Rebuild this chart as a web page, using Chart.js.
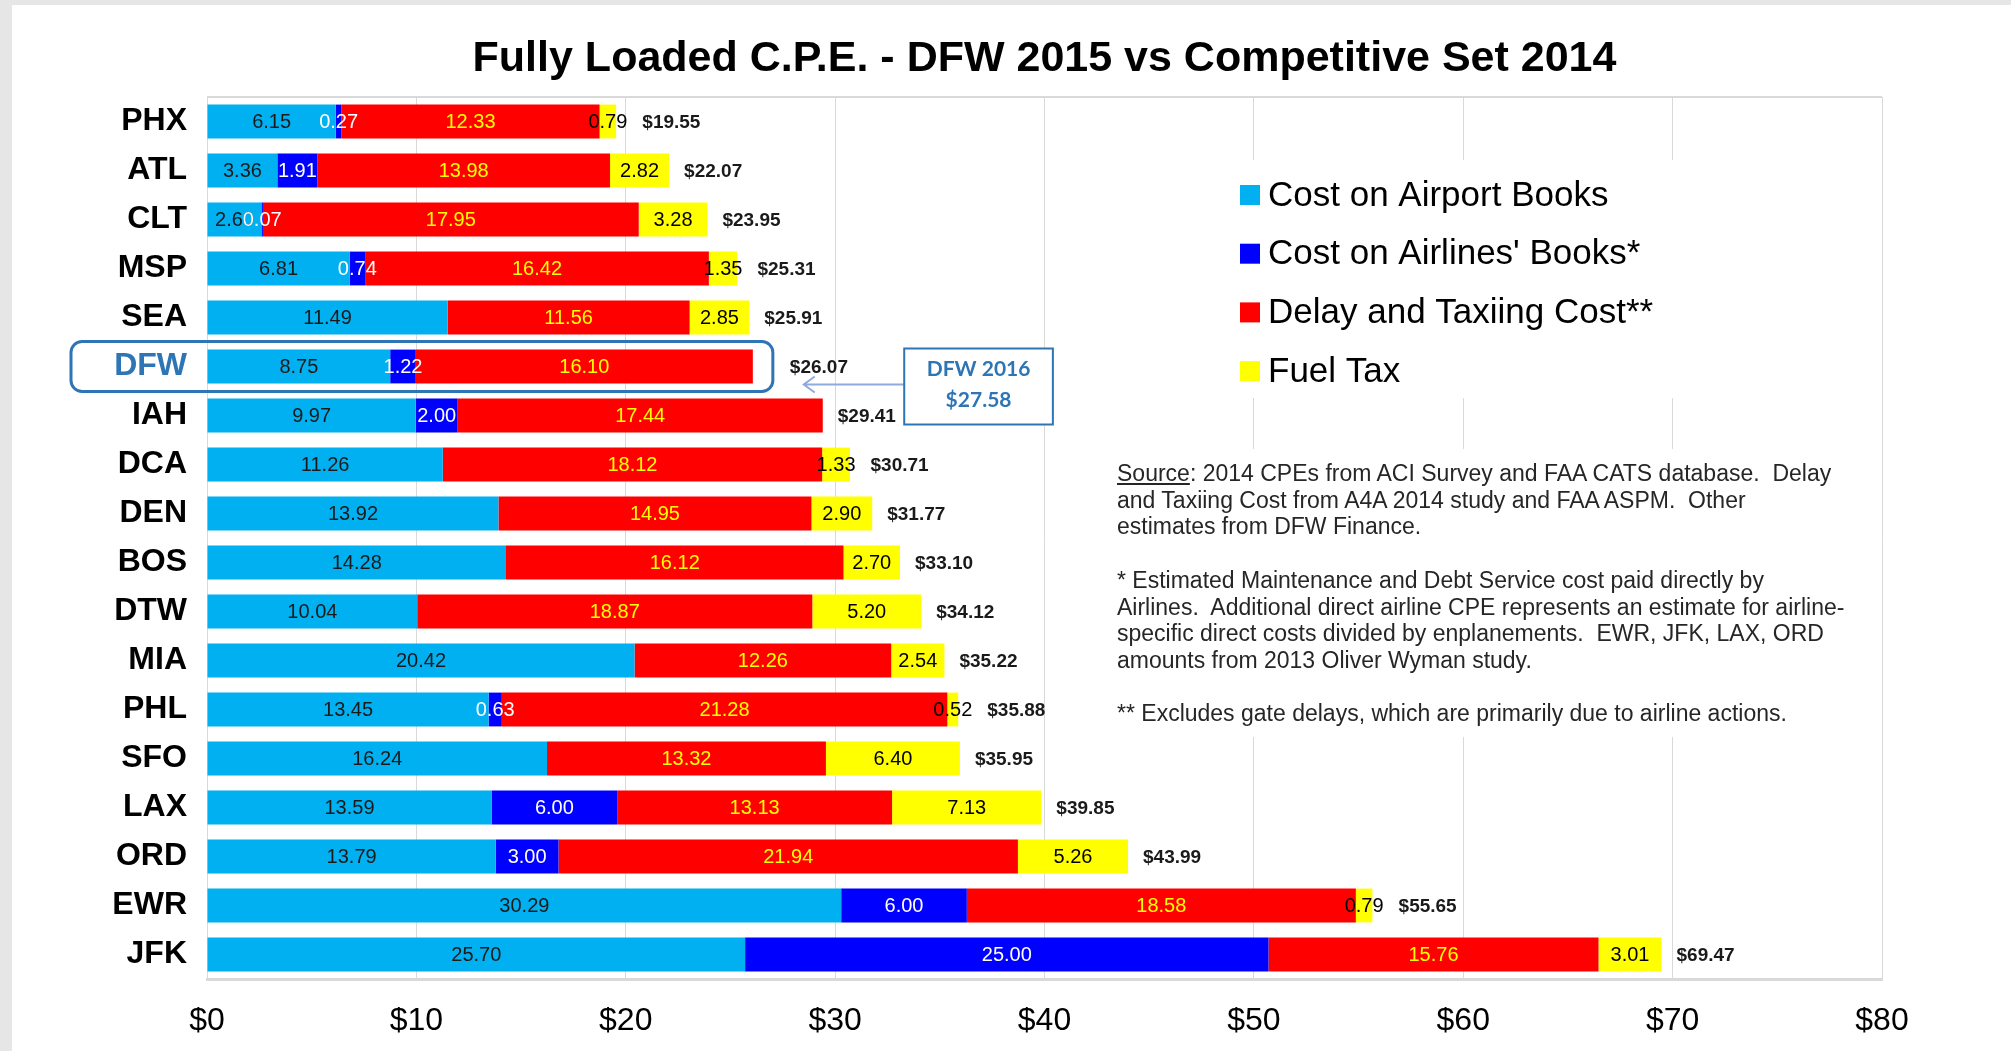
<!DOCTYPE html>
<html>
<head>
<meta charset="utf-8">
<script src="https://cdn.jsdelivr.net/npm/chart.js@4.4.1/dist/chart.umd.min.js"></script>
<style>
  body { margin: 0; background: #e6e6e6; width: 2011px; height: 1051px; overflow: hidden; font-family: "Liberation Sans", Arial, sans-serif; }
  #wrap { position: absolute; left: 12px; top: 5px; width: 1999px; height: 1046px; background: #fff; }
  #notes { position: absolute; left: 1105px; top: 455px; font-size: 23px; line-height: 26.7px; color: #262626; white-space: pre; }
  #notes u { text-decoration: underline; }
</style>
</head>
<body>
<div id="wrap">
  <canvas id="cpeChart" width="1999" height="1046"></canvas>
  <div id="notes"><u>Source</u>: 2014 CPEs from ACI Survey and FAA CATS database.  Delay
and Taxiing Cost from A4A 2014 study and FAA ASPM.  Other
estimates from DFW Finance.

* Estimated Maintenance and Debt Service cost paid directly by
Airlines.  Additional direct airline CPE represents an estimate for airline-
specific direct costs divided by enplanements.  EWR, JFK, LAX, ORD
amounts from 2013 Oliver Wyman study.

** Excludes gate delays, which are primarily due to airline actions.</div>
</div>
<script>
// values
const airports = ['PHX', 'ATL', 'CLT', 'MSP', 'SEA', 'DFW', 'IAH', 'DCA', 'DEN', 'BOS', 'DTW', 'MIA', 'PHL', 'SFO', 'LAX', 'ORD', 'EWR', 'JFK'];
const airportBooks = [6.15, 3.36, 2.60, 6.81, 11.49, 8.75, 9.97, 11.26, 13.92, 14.28, 10.04, 20.42, 13.45, 16.24, 13.59, 13.79, 30.29, 25.70];
const airlineBooks = [0.27, 1.91, 0.07, 0.74, null, 1.22, 2.00, null, null, null, null, null, 0.63, null, 6.00, 3.00, 6.00, 25.00];
const delayTaxi = [12.33, 13.98, 17.95, 16.42, 11.56, 16.10, 17.44, 18.12, 14.95, 16.12, 18.87, 12.26, 21.28, 13.32, 13.13, 21.94, 18.58, 15.76];
const fuelTax = [0.79, 2.82, 3.28, 1.35, 2.85, null, null, 1.33, 2.90, 2.70, 5.20, 2.54, 0.52, 6.40, 7.13, 5.26, 0.79, 3.01];
const totals = [19.55, 22.07, 23.95, 25.31, 25.91, 26.07, 29.41, 30.71, 31.77, 33.10, 34.12, 35.22, 35.88, 35.95, 39.85, 43.99, 55.65, 69.47];
const xTicks = [0, 10, 20, 30, 40, 50, 60, 70, 80];
const highlight = 'DFW';
const dfw2016 = 27.58;

const FONT = '"Liberation Sans", Arial, sans-serif';
const BLUE_NOTE = '#2E75B6';
const hiIdx = airports.indexOf(highlight);

const seriesDefs = [
    { label: 'Cost on Airport Books', data: airportBooks, color: '#00B0F0', text: '#1a1a1a' },
    { label: "Cost on Airlines' Books*", data: airlineBooks, color: '#0000FF', text: '#ffffff' },
    { label: 'Delay and Taxiing Cost**', data: delayTaxi, color: '#FF0000', text: '#FFFF00' },
    { label: 'Fuel Tax', data: fuelTax, color: '#FFFF00', text: '#000000' }
];

function rowEnd(j) {
    return seriesDefs.reduce((s, d) => s + (d.data[j] || 0), 0);
}

// white panels behind legend and notes (they hide the gridlines)
const panelPlugin = {
    id: 'panels',
    beforeDatasetsDraw(chart) {
        const c = chart.ctx, a = chart.chartArea;
        c.save();
        c.strokeStyle = '#D9D9D9';
        c.lineWidth = 2;
        c.beginPath();
        c.moveTo(a.left, a.top);
        c.lineTo(a.right, a.top);
        c.stroke();
        c.fillStyle = '#ffffff';
        c.fillRect(1088, a.top + 63, a.right - 12 - 1088, 238);
        c.fillRect(1088, a.top + 352, a.right - 12 - 1088, 288);
        c.restore();
    }
};

// segment values, totals, legend and the DFW call-out
const labelPlugin = {
    id: 'labels',
    afterDatasetsDraw(chart) {
        const c = chart.ctx, a = chart.chartArea;
        const xs = chart.scales.x, ys = chart.scales.y;
        const labelRight = airports.map(() => 0);
        c.save();
        c.textBaseline = 'middle';
        c.textAlign = 'center';
        c.font = '20px ' + FONT;
        chart.data.datasets.forEach((ds, i) => {
            chart.getDatasetMeta(i).data.forEach((bar, j) => {
                const v = ds.data[j];
                if (v == null) return;
                const txt = v.toFixed(2);
                const cx = (bar.x + bar.base) / 2;
                c.fillStyle = seriesDefs[i].text;
                c.fillText(txt, cx, bar.y + 1);
                labelRight[j] = Math.max(labelRight[j], cx + c.measureText(txt).width / 2);
            });
        });

        // DFW highlight box
        const rowY = ys.getPixelForValue(hiIdx);
        const boxRight = xs.getPixelForValue(rowEnd(hiIdx)) + 20;
        c.strokeStyle = BLUE_NOTE;
        c.lineWidth = 3;
        c.beginPath();
        c.roundRect(a.left - 136, rowY - 25, boxRight - (a.left - 136), 50, 11);
        c.stroke();

        // totals
        c.font = 'bold 19px ' + FONT;
        c.textAlign = 'left';
        c.fillStyle = '#1a1a1a';
        totals.forEach((t, j) => {
            let x = Math.max(xs.getPixelForValue(rowEnd(j)), labelRight[j]) + 15;
            if (j === hiIdx) x = boxRight + 17;
            c.fillText('$' + t.toFixed(2), x, ys.getPixelForValue(j) + 1);
        });

        // DFW 2016 call-out
        const bx0 = xs.getPixelForValue(33.3), bx1 = xs.getPixelForValue(40.4);
        const tip = xs.getPixelForValue(28.5);
        c.strokeStyle = '#8FAADC';
        c.lineWidth = 2;
        c.beginPath();
        c.moveTo(bx0, rowY + 18);
        c.lineTo(tip, rowY + 18);
        c.moveTo(tip + 11, rowY + 10);
        c.lineTo(tip, rowY + 18);
        c.lineTo(tip + 11, rowY + 26);
        c.stroke();
        c.fillStyle = '#ffffff';
        c.fillRect(bx0, rowY - 18, bx1 - bx0, 76);
        c.strokeStyle = BLUE_NOTE;
        c.lineWidth = 2;
        c.strokeRect(bx0, rowY - 18, bx1 - bx0, 76);
        c.fillStyle = BLUE_NOTE;
        c.textAlign = 'center';
        c.font = 'bold 21px Lato, "Open Sans", sans-serif';
        c.fillText('DFW 2016', (bx0 + bx1) / 2, rowY + 3);
        c.fillText('$' + dfw2016.toFixed(2), (bx0 + bx1) / 2, rowY + 34);
        c.restore();
    },
    afterDraw(chart) {
        const c = chart.ctx, a = chart.chartArea;
        c.save();
        c.textBaseline = 'middle';
        c.textAlign = 'left';
        c.font = '35px ' + FONT;
        chart.data.datasets.forEach((ds, i) => {
            const y = a.top + 98 + i * 58.7;
            c.fillStyle = ds.backgroundColor;
            c.fillRect(1228, y - 10, 20, 20);
            c.fillStyle = '#000000';
            c.fillText(ds.label, 1256, y + 1);
        });
        c.restore();
    }
};

new Chart(document.getElementById('cpeChart').getContext('2d'), {
    type: 'bar',
    data: {
        labels: airports,
        datasets: seriesDefs.map(d => ({
            label: d.label,
            data: d.data,
            backgroundColor: d.color,
            borderWidth: 0,
            barPercentage: 0.69,
            categoryPercentage: 1.0
        }))
    },
    options: {
        indexAxis: 'y',
        responsive: false,
        animation: false,
        layout: { padding: { left: 10, right: 129, top: 0, bottom: 0 } },
        plugins: {
            legend: { display: false },
            tooltip: { enabled: false },
            title: {
                display: true,
                fullSize: false,
                text: 'Fully Loaded C.P.E. - DFW 2015 vs Competitive Set 2014',
                color: '#000000',
                font: { family: FONT, size: 43, weight: 'bold' },
                padding: { top: 28, bottom: 12.4 }
            }
        },
        scales: {
            x: {
                stacked: true,
                min: xTicks[0],
                max: xTicks[xTicks.length - 1],
                afterBuildTicks: s => { s.ticks = xTicks.map(v => ({ value: v })); },
                ticks: {
                    callback: v => '$' + v,
                    color: '#000000',
                    font: { family: FONT, size: 32 },
                    padding: 23
                },
                grid: { color: '#D9D9D9', drawTicks: false },
                border: { color: '#D9D9D9', width: 3 },
                afterFit: s => { s.height = 72; }
            },
            y: {
                stacked: true,
                grid: { display: false, drawTicks: false },
                border: { color: '#D9D9D9', width: 1 },
                ticks: {
                    color: ctx => ctx.index === hiIdx ? BLUE_NOTE : '#000000',
                    font: { family: FONT, size: 32, weight: 'bold' },
                    padding: 20
                },
                afterFit: s => { s.width = 185; }
            }
        }
    },
    plugins: [panelPlugin, labelPlugin]
});
</script>
</body>
</html>
